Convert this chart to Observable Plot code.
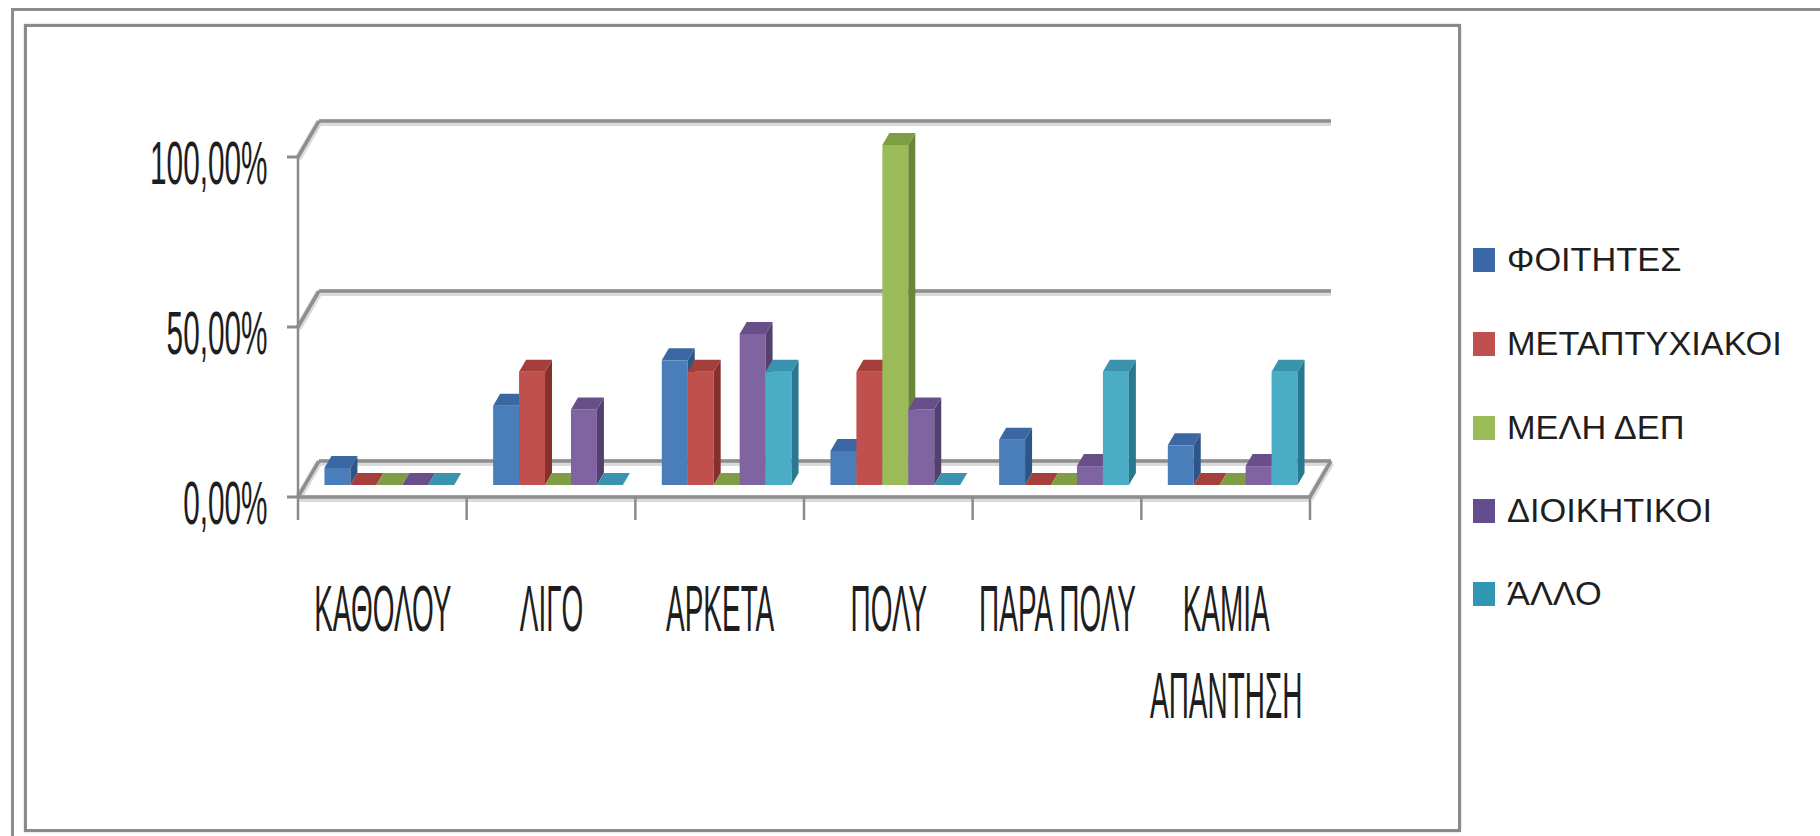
<!DOCTYPE html>
<html>
<head>
<meta charset="utf-8">
<script src="https://cdn.jsdelivr.net/npm/d3@7"></script>
<script src="https://cdn.jsdelivr.net/npm/@observablehq/plot@0.6"></script>
<style>
  html, body { margin: 0; padding: 0; background: #fff; overflow: hidden; }
  #page { position: relative; width: 1820px; height: 836px; overflow: hidden; background: #fff; }
  .outer-frame { position: absolute; left: 11px; top: 8px; width: 2000px; height: 1000px;
    border-left: 3px solid #8c8c8c; border-top: 3px solid #8c8c8c; }
  .inner-frame { position: absolute; left: 24px; top: 24px; width: 1437px; height: 808px;
    box-sizing: border-box; border: 3px solid #8a8a8a; box-shadow: 0 0 2px #c8c8c8; }
  #chart { position: absolute; left: 0; top: 0; }
  .legend-item { position: absolute; left: 1473px; height: 40px; display: flex; align-items: center;
    font-family: "Liberation Sans", Arial, sans-serif; font-size: 33px; color: #1e1e1e; white-space: nowrap; }
  .legend-item .swatch { width: 22px; height: 24px; flex: none; }
  .legend-item .name { margin-left: 12px; transform: scaleX(1.04); transform-origin: left center; }
</style>
</head>
<body>
<div id="page">
  <div class="outer-frame"></div>
  <div class="inner-frame"></div>
  <div id="chart"></div>
  <div id="legend"></div>
</div>
<script>
// Response categories (x axis)
const categories = ["ΚΑΘΟΛΟΥ", "ΛΙΓΟ", "ΑΡΚΕΤΑ", "ΠΟΛΥ", "ΠΑΡΑ ΠΟΛΥ", "ΚΑΜΙΑ ΑΠΑΝΤΗΣΗ"];

// Respondent groups (series)
const seriesNames = ["ΦΟΙΤΗΤΕΣ", "ΜΕΤΑΠΤΥΧΙΑΚΟΙ", "ΜΕΛΗ ΔΕΠ", "ΔΙΟΙΚΗΤΙΚΟΙ", "ΆΛΛΟ"];

// Share of each group per category
const students  = [0.05, 0.2333, 0.3667, 0.10, 0.1333, 0.1167];
const postgrads = [0, 0.3333, 0.3333, 0.3333, 0, 0];
const faculty   = [0, 0, 0, 1.0, 0, 0];
const admin     = [0, 0.2222, 0.4444, 0.2222, 0.0556, 0.0556];
const other     = [0, 0, 0.3333, 0, 0.3333, 0.3333];

// Value axis ticks
const yTicks = [0, 0.5, 1];

const seriesValues = [students, postgrads, faculty, admin, other];

// Face colours per series: front, top, side; plus legend swatch
const faces = [
  {front: "#4a7ebb", top: "#3b68a3", side: "#2d5587", key: "#3a67a8"},
  {front: "#c0504d", top: "#a53f3c", side: "#86302e", key: "#c0504d"},
  {front: "#9bbb59", top: "#7f9d45", side: "#6a8638", key: "#9bbb59"},
  {front: "#8064a2", top: "#684f8a", side: "#54406f", key: "#654c8e"},
  {front: "#4bacc6", top: "#3a93ac", side: "#2a7890", key: "#3196b4"}
];

// Depth of the floor / back wall in pixels, and bar gap in bar widths
const depth = {dx: 21, dy: -36};
const gapWidth = 1.5;

const pct = d3.formatLocale({decimal: ",", thousands: ".", grouping: [3], currency: ["", " €"]}).format(".2%");

// Records for the chart
const records = [];
categories.forEach((c, ci) => {
  seriesValues.forEach((vals, si) => records.push({ci, si, value: vals[ci]}));
});

// Wrap long category labels at spaces
const labelRows = [];
categories.forEach((c, i) => {
  const lines = c.length > 12 ? c.split(" ") : [c];
  lines.forEach((line, k) => labelRows.push({i, k, line}));
});

function poly(g, pts, fill) {
  g.append("polygon").attr("points", pts.map(p => p.join(",")).join(" ")).attr("fill", fill);
}

function seg(g, a, b, stroke, width) {
  g.append("line").attr("x1", a[0]).attr("y1", a[1]).attr("x2", b[0]).attr("y2", b[1])
    .attr("stroke", stroke).attr("stroke-width", width).attr("stroke-linecap", "butt");
}

// Back wall gridlines, floor outline, value axis and category ticks
function walls(index, scales) {
  const {x, y} = scales;
  const g = d3.create("svg:g");
  const x0 = x(0), xn = x(categories.length), y0 = y(0);
  const lines = [];
  for (const t of yTicks) {
    const yt = y(t);
    lines.push([[x0, yt], [x0 + depth.dx, yt + depth.dy]]);
    lines.push([[x0 + depth.dx, yt + depth.dy], [xn + depth.dx, yt + depth.dy]]);
  }
  lines.push([[x0, y0], [xn, y0]]);
  lines.push([[xn, y0], [xn + depth.dx, y0 + depth.dy]]);
  for (const [a, b] of lines) seg(g, [a[0], a[1] + 1.5], [b[0], b[1] + 1.5], "#dadada", 7);
  for (const [a, b] of lines) seg(g, a, b, "#8e8e8e", 3.5);
  // value axis with its ticks
  seg(g, [x0, y(yTicks[yTicks.length - 1]) - 1], [x0, y0 + 23], "#8a8a8a", 2.5);
  for (const t of yTicks) seg(g, [x0 - 11, y(t)], [x0, y(t)], "#8a8a8a", 3);
  // category separators below the floor
  for (let i = 1; i <= categories.length; i++) seg(g, [x(i), y0], [x(i), y0 + 23], "#8a8a8a", 2.5);
  return g.node();
}

// 3-D columns: front face, top and right side
function columns(index, scales) {
  const {x, y} = scales;
  const g = d3.create("svg:g");
  const n = seriesNames.length;
  const bdx = depth.dx / 3, bdy = depth.dy / 3;
  for (const r of records) {
    const cx0 = x(r.ci), cx1 = x(r.ci + 1);
    const bw = (cx1 - cx0) / (n + gapWidth);
    const x1 = cx0 + (gapWidth / 2 + r.si) * bw + bdx, x2 = x1 + bw;
    const yb = y(0) + bdy, yt = y(r.value) + bdy;
    const f = faces[r.si];
    if (r.value > 0) {
      g.append("rect").attr("x", x1).attr("y", yt).attr("width", bw).attr("height", yb - yt).attr("fill", f.front);
      poly(g, [[x2, yt], [x2 + bdx, yt + bdy], [x2 + bdx, yb + bdy], [x2, yb]], f.side);
    }
    poly(g, [[x1, yt], [x2, yt], [x2 + bdx, yt + bdy], [x1 + bdx, yt + bdy]], f.top);
  }
  return g.node();
}

const plot = Plot.plot({
  width: 1820,
  height: 836,
  marginLeft: 298,
  marginRight: 510,
  marginTop: 157,
  marginBottom: 339,
  style: {background: "transparent", overflow: "visible"},
  x: {type: "linear", domain: [0, categories.length], axis: null},
  y: {type: "linear", domain: [0, 1], axis: null},
  marks: [
    walls,
    columns,
    Plot.text(yTicks, {
      x: 0, y: d => d, text: d => pct(d),
      textAnchor: "end", dx: -31, dy: 7,
      fontSize: 62, fontFamily: "Liberation Sans", fill: "#1e1e1e"
    }),
    Plot.text(labelRows.filter(d => d.k === 0), {
      x: d => d.i + 0.5, y: 0, text: "line",
      dy: 113, fontSize: 65, fontFamily: "Liberation Sans", fill: "#1e1e1e"
    }),
    Plot.text(labelRows.filter(d => d.k === 1), {
      x: d => d.i + 0.5, y: 0, text: "line",
      dy: 200, fontSize: 65, fontFamily: "Liberation Sans", fill: "#1e1e1e"
    })
  ]
});

document.getElementById("chart").append(plot);

// Narrow the axis lettering horizontally about each label's anchor
const valueTexts = new Set(yTicks.map(pct));
const categoryTexts = new Set(labelRows.map(d => d.line));
plot.querySelectorAll("text").forEach(t => {
  const s = t.textContent.trim();
  const factor = valueTexts.has(s) ? 0.48 : categoryTexts.has(s) ? 0.43 : null;
  if (factor == null) return;
  const tr = t.getAttribute("transform");
  if (tr) {
    t.setAttribute("transform", `${tr} scale(${factor},1)`);
  } else {
    const tx = +(t.getAttribute("x") || 0), ty = +(t.getAttribute("y") || 0);
    t.setAttribute("x", 0);
    t.setAttribute("y", 0);
    t.setAttribute("transform", `translate(${tx},${ty}) scale(${factor},1)`);
  }
});

// Legend
const legendCenters = [260, 344, 427.5, 511, 594];
const legend = document.getElementById("legend");
seriesNames.forEach((name, i) => {
  const item = document.createElement("div");
  item.className = "legend-item";
  item.style.top = (legendCenters[i] - 20) + "px";
  const sw = document.createElement("span");
  sw.className = "swatch";
  sw.style.background = faces[i].key;
  const tx = document.createElement("span");
  tx.className = "name";
  tx.textContent = name;
  item.append(sw, tx);
  legend.append(item);
});
</script>
</body>
</html>
